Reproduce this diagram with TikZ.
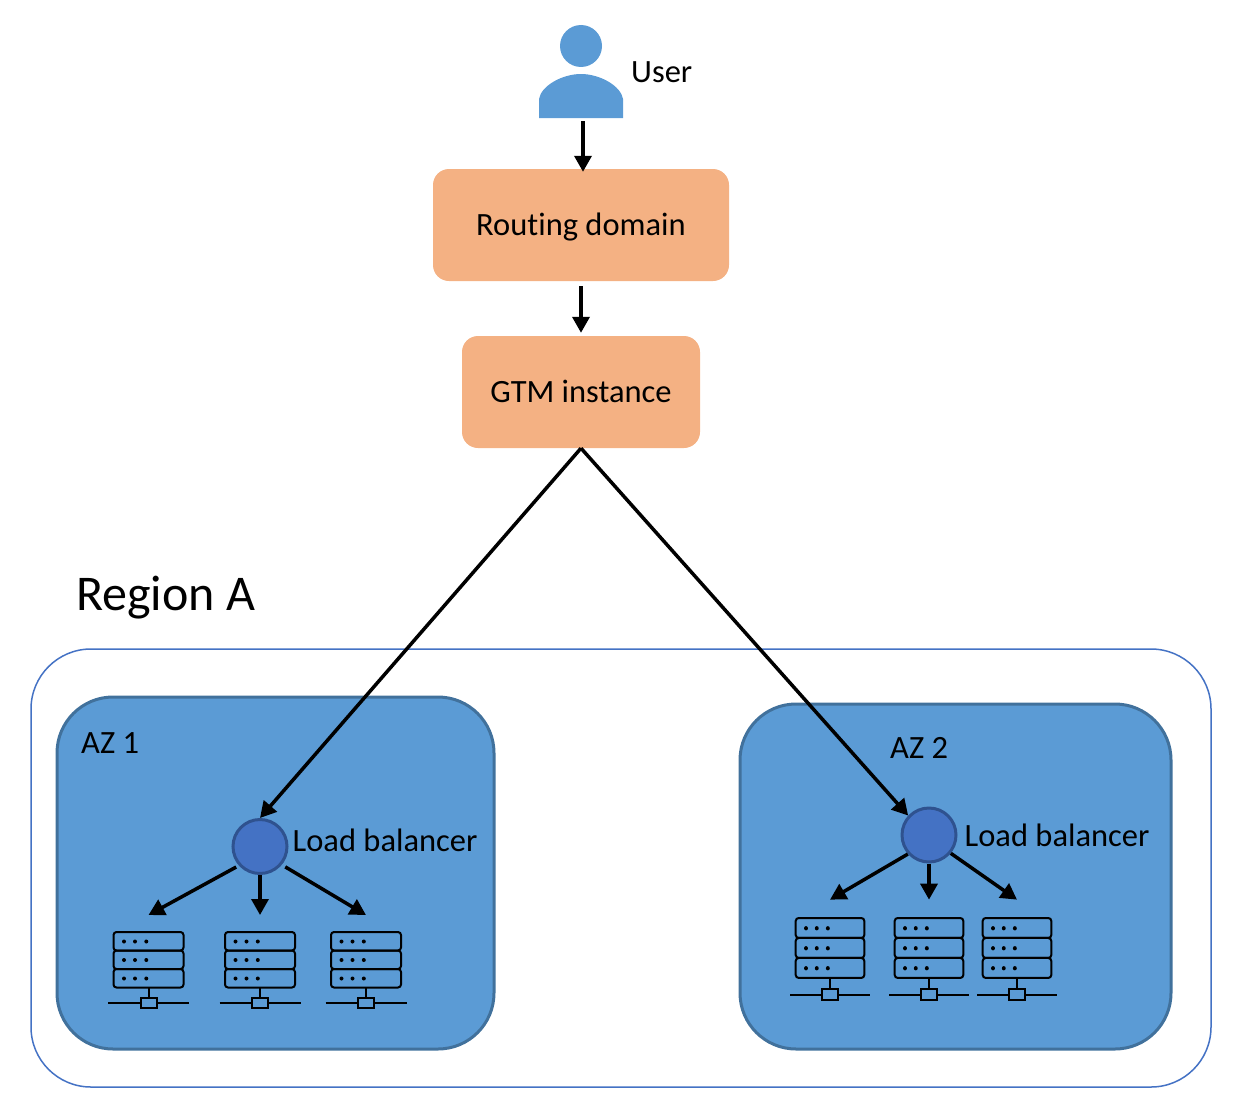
\documentclass[tikz,border=0pt]{standalone}
\usepackage{fontspec}
\setmainfont[RawFeature=-liga]{Carlito}
\usetikzlibrary{arrows.meta,positioning}
\definecolor{azblue}{HTML}{5B9BD5}
\definecolor{azedge}{HTML}{41719C}
\definecolor{lbblue}{HTML}{4472C4}
\definecolor{lbedge}{HTML}{2F528F}
\definecolor{peach}{HTML}{F4B183}
\tikzstyle{arrow} = [line width=3.5pt,->,>={Triangle[length=16pt,width=17pt]}]
\tikzstyle{domainbox} = [fill=peach,rounded corners=16pt,text height=24pt,text depth=3pt,font=\fontsize{32.5}{38}\selectfont]
\tikzstyle{azbox} = [fill=azblue,draw=azedge,line width=3pt,rounded corners=56pt]
\tikzstyle{balancer} = [circle,fill=lbblue,draw=lbedge,line width=3pt,minimum size=54pt,inner sep=0pt]
\tikzstyle{caption} = [inner sep=0pt,anchor=west,font=\fontsize{32.5}{38}\selectfont]
\tikzset{
  serverrack/.pic={
    \coordinate (-top) at (0,-17);
    \foreach \row in {0,1,2} {
      \draw[line width=2pt,rounded corners=3pt] (-35,18.5*\row) rectangle (35,18.5*\row+18.5);
      \foreach \dot in {-24.5,-13.5,-2.2}
        \fill (\dot,18.5*\row+9.5) circle (2pt);
    }
    \draw[line width=2pt] (0,55.5) -- (0,71);
    \draw[line width=2pt] (-40.5,71) -- (40.5,71);
    \draw[line width=2pt,fill=azblue] (-8,66) rectangle (8,76);
  }
}
\begin{document}
\begin{tikzpicture}[x=1pt,y=-1pt]
  \useasboundingbox (0,0) rectangle (1236,1116);

  % region and the two zones
  \draw[draw=lbblue,line width=1.5pt,rounded corners=60pt] (31,649) rectangle (1211,1087);
  \draw[azbox] (57,697) rectangle (494,1049);
  \draw[azbox] (740,704) rectangle (1171,1049);
  \node[caption,font=\fontsize{50}{58}\selectfont] (regiona) at (76,598) {Region A};
  \node[caption] (aza) at (81,743) {AZ 1};
  \node[caption] (azb) at (890,748) {AZ 2};

  % user icon
  \fill[azblue] (581,46) circle (21pt);
  \fill[azblue] (539,118) -- (539,99) .. controls (541,86) and (562,74) .. (581,74)
    .. controls (600,74) and (621,86) .. (623,99) -- (623,118) -- cycle;
  \coordinate (usericon) at (583,121);
  \node[caption] (user) at (631,72) {User};

  \node[domainbox,minimum width=296pt,minimum height=112pt] (routing) at (581,225) {Routing domain};
  \node[domainbox,minimum width=238pt,minimum height=112pt] (gtm) at (581,392) {GTM instance};

  \node[balancer] (lba) at (260,846.5) {};
  \node[balancer] (lbb) at (929,835) {};
  \node[caption,right=4pt of lba,yshift=6.5pt] (lbtexta) {Load balancer};
  \node[caption,right=7pt of lbb] (lbtextb) {Load balancer};

  % servers below each balancer
  \pic (sa1) at (148.5,932) {serverrack};
  \pic (sa2) at (260,932) {serverrack};
  \pic (sa3) at (366,932) {serverrack};
  \pic[xscale=.98,yscale=1.08] (sb1) at (830,918) {serverrack};
  \pic[xscale=.98,yscale=1.08] (sb2) at (929,918) {serverrack};
  \pic[xscale=.98,yscale=1.08] (sb3) at (1017,918) {serverrack};

  \draw[arrow,shorten >=-3pt] (usericon) -- (usericon |- routing.north);
  \draw[arrow,shorten <=5pt,shorten >=3pt] (routing) -- (gtm);
  \draw[arrow] (gtm.south) -- (lba.north);
  \draw[arrow] (gtm.south) -- (lbb.137);
  \draw[arrow,shorten <=3pt] (lba.222) -- (sa1-top);
  \draw[arrow] (lba) -- (sa2-top);
  \draw[arrow,shorten <=4pt] (lba.-40) -- (sa3-top);
  \draw[arrow] (lbb.222) -- (sb1-top);
  \draw[arrow] (lbb) -- (sb2-top);
  \draw[arrow] (lbb.-40) -- (sb3-top);
\end{tikzpicture}
\end{document}
